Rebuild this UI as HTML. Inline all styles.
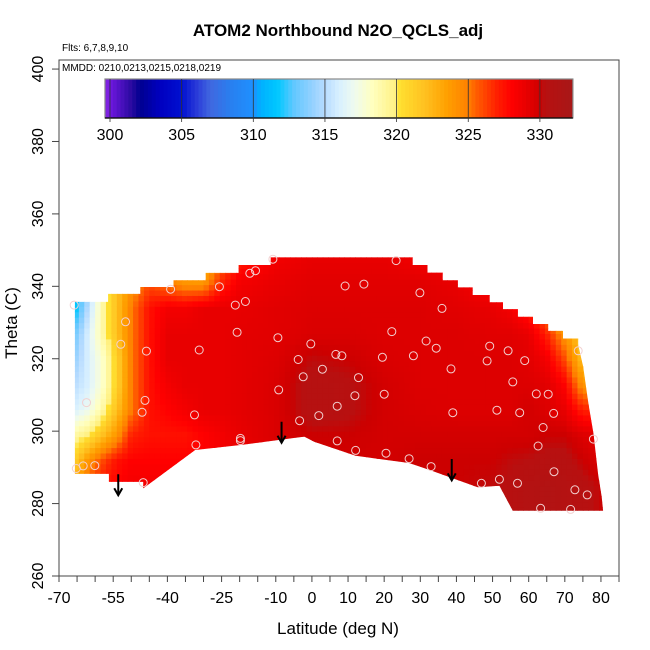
<!DOCTYPE html>
<html><head><meta charset="utf-8"><style>
html,body{margin:0;padding:0;background:#fff;}
svg{display:block;font-family:"Liberation Sans",sans-serif;}
</style></head><body>
<svg id="chart" width="650" height="650" viewBox="0 0 650 650">
<text x="338" y="36" text-anchor="middle" font-size="17" font-weight="bold">ATOM2 Northbound N2O_QCLS_adj</text>
<text x="62" y="51" font-size="10">Flts: 6,7,8,9,10</text>
<g id="plot"></g>
<rect x="59" y="60" width="560" height="516" fill="none" stroke="#444" stroke-width="1"/>
<text x="62" y="71" font-size="10">MMDD: 0210,0213,0215,0218,0219</text>
<g id="cbar"></g>
<g id="axes"></g>
<text x="338" y="634" text-anchor="middle" font-size="17">Latitude (deg N)</text>
<text transform="translate(17,323) rotate(-90)" text-anchor="middle" font-size="17">Theta (C)</text>
</svg>
<script>
// ---- data ----
const gridLats = [-66,-62,-58,-54,-50,-45,-40,-35,-30,-25,-20,-10,0,10,20,30,40,50,55,60,65,70,75,81];
const gridThetas = [348,341,334,327,320,313,306,299,292,285,278];
const gridValues = [
[310,314,319,322,324,325,324,323,322,325,327,328.5,329,329,329,328.5,328,327,326,324,322,321,321,321],
[310,314,319,322,324,326,325,324,324,327,328.5,329,329.3,329.3,329.3,329.3,329,328,327,325,323,321,321,321],
[311,315,319,322,325,327.5,328.5,328.5,329,329,329,329.3,329.5,329.5,329.5,329.5,329.3,329,328.5,327,325,322,321,321],
[313,316,319,322,325,327.5,329,329,329,329,329.2,329.3,329.6,329.6,329.5,329.5,329.5,329.3,329.3,329,327,324,321,321],
[314,316,318,321,325,327.5,329,329,329,329,329.2,329.5,330.2,330,329.6,329.5,329.5,329.5,329.5,329.3,328.5,326,322,322],
[315,316,318,321,325,327.5,328.5,329,329,329,329.2,329.6,330.6,330.4,329.8,329.5,329.5,329.5,329.5,329.5,329.3,328,324,324],
[316,317,319,322,325,327.5,328,328.5,329,329,329.2,329.6,330.6,330.4,329.8,329.6,329.5,329.5,329.5,329.8,329.5,329,327,327],
[319,320,322,324,327,327.5,327.5,327.5,328,328.5,329,329.6,330,330,329.8,329.8,329.8,329.8,329.8,329.8,330,330,329.5,329],
[321,324,326,327.5,328,328,328,328,328,328.5,329,329.5,329.8,329.8,329.8,330,330,330,330.2,330.3,330.5,330.5,330,329.5],
[323,326,327.5,328,328.5,328.5,328.5,328.5,328.5,329,329.2,329.5,329.8,329.8,330,330,330,330.2,330.4,330.8,331,330.8,330.5,330],
[323,326,327.5,328,328.5,328.5,328.5,328.5,328.5,329,329.2,329.5,329.8,329.8,330,330,330,330.2,330.4,330.8,331,330.8,330.5,330]
];
const regionOutline = [[-65.6,288.2],[-65.6,335.7],[-56.4,335.7],[-56.4,337.9],[-47.5,337.9],[-47.5,339.8],[-38.3,339.8],[-38.3,341.7],[-29.4,341.7],[-29.4,343.7],[-20.3,343.7],[-20.3,345.9],[-11.4,345.9],[-11.4,348.0],[27.9,348.0],[27.9,345.9],[32.0,345.9],[32.0,343.8],[36.2,343.8],[36.2,341.7],[40.4,341.7],[40.4,339.7],[44.5,339.7],[44.5,337.6],[49.2,337.6],[49.2,335.6],[52.9,335.6],[52.9,333.7],[57.0,333.7],[57.0,331.6],[61.2,331.6],[61.2,329.6],[65.4,329.6],[65.4,327.7],[69.5,327.7],[69.5,325.6],[73.7,325.6],[73.7,323.8],[75.1,317.8],[76.5,307.8],[77.9,299.5],[79.25,287.9],[80.2,281.9],[80.6,278.0],[55.6,278.0],[51.9,284.9],[45.9,284.5],[32.5,289.3],[26.9,291.2],[12.1,293.2],[0.6,297.1],[-2.1,298.5],[-19.4,296.2],[-32.3,294.8],[-46.7,284.2],[-46.7,286.0],[-56.2,286.0],[-56.2,288.2]];
const pointLats = [-65.8,-10.8,-17.2,-15.6,-25.6,-39.1,-21.2,-18.4,-51.6,-20.7,-9.4,-52.9,-45.8,-31.2,-0.3,-3.8,6.6,2.9,-2.4,-9.2,-62.4,-46.2,-47.0,-32.5,-3.4,1.9,7.0,-19.8,-19.8,-32.1,7.0,-65.2,-63.3,-60.1,-46.7,
23.3,9.2,14.4,29.9,36.0,22.1,31.6,34.4,49.2,54.3,8.3,19.5,28.1,73.7,58.9,48.5,38.5,12.9,55.6,11.9,20.0,62.1,65.4,39.0,51.2,57.5,66.9,64.0,77.9,12.1,20.5,26.9,33.0,62.6,67.0,46.9,51.9,56.9,72.8,76.2,63.3,71.6];
const pointThetas = [334.8,347.5,343.6,344.3,339.9,339.2,334.8,335.8,330.2,327.3,325.8,324.0,322.1,322.4,324.1,319.8,321.2,317.1,315.0,311.4,307.9,308.5,305.2,304.5,302.9,304.3,306.9,298.0,297.4,296.2,297.3,289.7,290.4,290.5,285.8,
347.1,340.1,340.6,338.2,333.9,327.5,324.9,322.9,323.5,322.2,320.8,320.4,320.8,322.2,319.5,319.4,317.2,314.8,313.6,309.8,310.2,310.3,310.2,305.1,305.8,305.1,304.9,301.0,297.8,294.7,293.9,292.4,290.2,295.9,288.8,285.6,286.7,285.6,283.8,282.4,278.7,278.4];
const arrowLats = [-53.6,-8.4,38.7];
const arrowTopThetas = [288.1,302.6,292.3];
const arrowBottomThetas = [282.3,296.8,286.4];
const xTickLabels = [-70,-55,-40,-25,-10,0,10,20,30,40,50,60,70,80];
const yTickLabels = [260,280,300,320,340,360,380,400];
const cbarTickLabels = [300,305,310,315,320,325,330];
const cmapValues = [299.6,300,301.5,302.1,303.5,305,306,307,308.5,310,310.5,311.7,312.8,314,315,316,317,318.3,320,320.2,322,323.5,325,325.5,327,328,329.5,330,330.3,332.3];
const cmapColors = ['#8a2be2','#7018e0','#2a0aa0','#000090','#0000c0','#0010d0','#2838d8','#4068e0','#2880f0','#1e90ff','#00b0ff','#00c8ff','#60c8ff','#90d0ff','#b8dcff','#d8f0ff','#eefaf0','#ffffc0','#fff080','#ffe030','#ffc020','#ffa000','#ff8000','#ff6000','#ff2000','#ff0000','#dd0000','#cc0000','#b81010','#a81818'];

// ---- scales ----
const X = lat => 59 + (lat + 70) * 3.613;
const Y = th => 576 - (th - 260) * 3.621;
const CB = v => 110 + (v - 300) * 14.33;
const NS = 'http://www.w3.org/2000/svg';
function mk(tag, attrs, parent){const e=document.createElementNS(NS,tag);for(const k in attrs)e.setAttribute(k,attrs[k]);parent.appendChild(e);return e;}
function hex(c){return [parseInt(c.substr(1,2),16),parseInt(c.substr(3,2),16),parseInt(c.substr(5,2),16)];}
function color(v){
  if(v<=cmapValues[0])return cmapColors[0];
  for(let i=1;i<cmapValues.length;i++){
    if(v<=cmapValues[i]){const t=(v-cmapValues[i-1])/(cmapValues[i]-cmapValues[i-1]);
      const a=hex(cmapColors[i-1]),b=hex(cmapColors[i]);
      return 'rgb('+a.map((x,j)=>Math.round(x+(b[j]-x)*t)).join(',')+')';}
  }
  return cmapColors[cmapColors.length-1];
}
function interp(lat,th){
  let i=0;while(i<gridLats.length-2&&lat>gridLats[i+1])i++;
  let j=0;while(j<gridThetas.length-2&&th<gridThetas[j+1])j++;
  let tx=(lat-gridLats[i])/(gridLats[i+1]-gridLats[i]);tx=Math.max(0,Math.min(1,tx));
  let ty=(gridThetas[j]-th)/(gridThetas[j]-gridThetas[j+1]);ty=Math.max(0,Math.min(1,ty));
  const v00=gridValues[j][i],v01=gridValues[j][i+1],v10=gridValues[j+1][i],v11=gridValues[j+1][i+1];
  return (v00*(1-tx)+v01*tx)*(1-ty)+(v10*(1-tx)+v11*tx)*ty;
}

const svg=document.getElementById('chart');
const plot=document.getElementById('plot');
const defs=mk('defs',{},svg);
const clip=mk('clipPath',{id:'regionClip'},defs);
const cp=mk('polygon',{points:regionOutline.map(p=>X(p[0]).toFixed(1)+','+Y(p[1]).toFixed(1)).join(' ')},clip);



const heat=mk('g',{'clip-path':'url(#regionClip)'},plot);


const dLat=1.5,dTh=1.5;
for(let lat=-66;lat<81;lat+=dLat){
  for(let th=277.5;th<349;th+=dTh){
    const v=interp(lat+dLat/2,th+dTh/2);
    const r=mk('rect',{x:X(lat).toFixed(2),y:Y(th+dTh).toFixed(2),width:(dLat*3.613+0.6).toFixed(2),height:(dTh*3.621+0.6).toFixed(2),fill:color(v)},heat);
    
    
  }
}
// points
for(let k=0;k<pointLats.length;k++){
  const c=mk('circle',{cx:X(pointLats[k]).toFixed(1),cy:Y(pointThetas[k]).toFixed(1),r:4,fill:'none',stroke:'#f2d0d0','stroke-width':1},plot);
  
  
}
// arrows
for(let k=0;k<arrowLats.length;k++){
  const g=mk('g',{stroke:'#000','stroke-width':2,fill:'none'},plot);
  
  
  const x=X(arrowLats[k]),y1=Y(arrowTopThetas[k]),y2=Y(arrowBottomThetas[k]);
  mk('line',{x1:x,y1:y1,x2:x,y2:y2},g);
  mk('polyline',{points:(x-4)+','+(y2-7)+' '+x+','+y2+' '+(x+4)+','+(y2-7)},g);
}
// colorbar
const cb=document.getElementById('cbar');
const nSeg=120,v0=299.65,v1=332.3;
for(let s=0;s<nSeg;s++){
  const va=v0+(v1-v0)*s/nSeg,vb=v0+(v1-v0)*(s+1)/nSeg;
  const r=mk('rect',{x:CB(va).toFixed(2),y:79,width:(CB(vb)-CB(va)+0.5).toFixed(2),height:39,fill:color((va+vb)/2)},cb);
  
  
}
mk('rect',{x:CB(v0),y:79,width:CB(v1)-CB(v0),height:39,fill:'none',stroke:'#888','stroke-width':1.2},cb);
mk('line',{x1:CB(v0),y1:118,x2:CB(v1),y2:118,stroke:'#000','stroke-width':1.2},cb);
cbarTickLabels.forEach(v=>{
  const x=CB(v);
  mk('line',{x1:x,y1:79,x2:x,y2:122,stroke:'#333','stroke-width':0.8},cb);
  const t=mk('text',{x:x,y:140,'text-anchor':'middle','font-size':16},cb);
  t.textContent=v;
  
  
});
// axes
const ax=document.getElementById('axes');
for(let lat=-70;lat<=85;lat+=5){mk('line',{x1:X(lat),y1:576,x2:X(lat),y2:582,stroke:'#444'},ax);}
xTickLabels.forEach(v=>{
  const t=mk('text',{x:X(v),y:603,'text-anchor':'middle','font-size':16},ax);
  t.textContent=v;
  
  
});
yTickLabels.forEach(v=>{
  mk('line',{x1:52,y1:Y(v),x2:59,y2:Y(v),stroke:'#444'},ax);
  const t=mk('text',{transform:'translate(43,'+Y(v)+') rotate(-90)','text-anchor':'middle','font-size':16},ax);
  t.textContent=v;
  
  
});
</script>
</body></html>
